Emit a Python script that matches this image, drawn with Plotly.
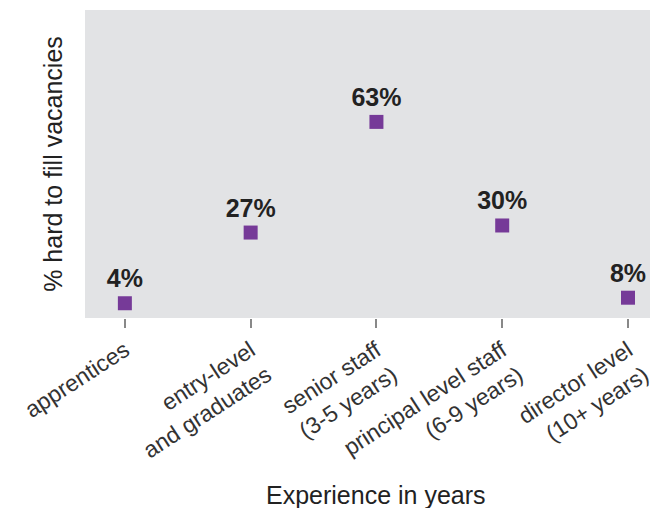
import plotly.graph_objects as go

categories = ["apprentices", "entry-level<br>and graduates", "senior staff<br>(3-5 years)",
              "principal level staff<br>(6-9 years)", "director level<br>(10+ years)"]
values = [4, 27, 63, 29.3, 5.8]
labels = ["4%", "27%", "63%", "30%", "8%"]
x_title = "Experience in years"
y_title = "% hard to fill vacancies"

FONT = "Liberation Sans, Arial, sans-serif"

fig = go.Figure(go.Scatter(
    x=list(range(len(categories))), y=values, mode="markers+text",
    text=labels, textposition="top center",
    textfont=dict(family=FONT, size=25, color="#222222", weight="bold"),
    marker=dict(symbol="square", size=14, color="#763a98"),
    cliponaxis=False, hoverinfo="skip",
))

fig.update_layout(
    width=650, height=508,
    margin=dict(l=85, r=0, t=10, b=190),
    paper_bgcolor="white", plot_bgcolor="#e2e3e5",
    showlegend=False,
    font=dict(family=FONT, color="#333333"),
    xaxis=dict(
        tickmode="array", tickvals=list(range(len(categories))), ticktext=categories,
        range=[-0.317, 4.175], showgrid=False, zeroline=False, showline=False,
        ticks="outside", ticklen=9, tickwidth=1.5, tickcolor="#888888",
        tickangle=-33, tickfont=dict(size=23, color="#333333"),
        ticklabeloverflow="allow", automargin=False,
    ),
    yaxis=dict(
        range=[-0.8, 99.4], showticklabels=False, showgrid=False, zeroline=False,
        showline=False, ticks="", automargin=False,
        title=dict(text=y_title, font=dict(size=25, color="#222222"), standoff=14),
    ),
    annotations=[dict(
        text=x_title, x=2, xref="x", y=-0.575, yref="paper",
        xanchor="center", yanchor="middle", showarrow=False,
        font=dict(family=FONT, size=25, color="#222222"),
    )],
)

fig.write_html("out.html")
